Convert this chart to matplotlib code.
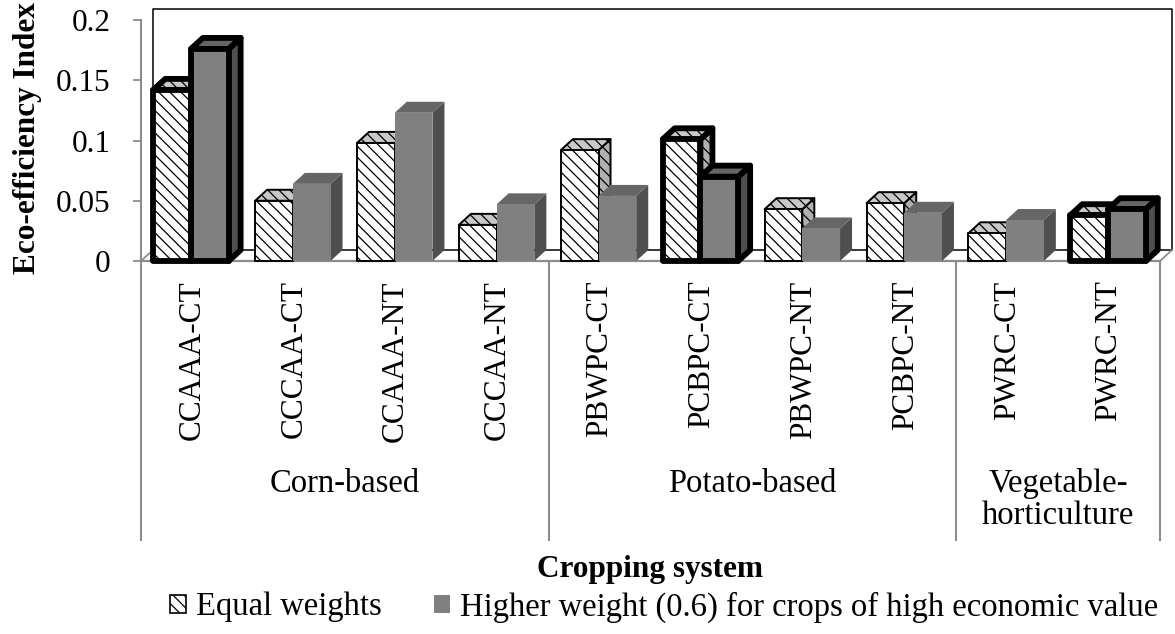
import matplotlib
matplotlib.use("Agg")
import matplotlib.pyplot as plt
from matplotlib.patches import Patch
import numpy as np

plt.rcParams["font.family"] = ["Liberation Serif", "DejaVu Serif"]
plt.rcParams["hatch.linewidth"] = 0.9

# data
systems = ["CCAAA-CT", "CCCAA-CT", "CCAAA-NT", "CCCAA-NT",
           "PBWPC-CT", "PCBPC-CT", "PBWPC-NT", "PCBPC-NT",
           "PWRC-CT", "PWRC-NT"]
equal_w = [0.142, 0.050, 0.098, 0.030, 0.092, 0.101, 0.043, 0.048, 0.023, 0.038]
high_w = [0.176, 0.064, 0.123, 0.047, 0.054, 0.070, 0.027, 0.040, 0.034, 0.043]
highlighted = ["CCAAA-CT", "PCBPC-CT", "PWRC-NT"]
groups = ["Corn-based", "Potato-based", "Vegetable-\nhorticulture"]
group_sizes = [4, 4, 2]
yticks = [0, 0.05, 0.1, 0.15, 0.2]
ytick_labels = ["0", "0.05", "0.1", "0.15", "0.2"]
legend_labels = ["Equal weights",
                 "Higher weight (0.6) for crops of high economic value"]

# pseudo 3d look
W, H = 1175, 634
px_x = 101.9          # pixels per category
px_y = 1205.0         # pixels per unit value
DX = 12 / px_x
DY = 11 / px_y
BW = 0.37
OFF = 0.12
FS = 23.5
FS_TICK = 22.5
FS_BOLD = 22.5

fig = plt.figure(figsize=(W / 100, H / 100), dpi=100)
ax = fig.add_axes([141 / W, 1 - 261 / H, (1160 - 141) / W, (261 - 20) / H])
ax.set_xlim(0, len(systems))
ax.set_ylim(0, 0.2)
for s in ax.spines.values():
    s.set_visible(False)

axis_gray = "#8c8c8c"
ybot = -(540 - 261) / px_y

# back wall + floor
ax.plot([DX, DX, 10 + DX, 10 + DX], [DY, 0.2 + DY, 0.2 + DY, DY],
        color="black", lw=1.1, clip_on=False, zorder=1)
ax.plot([DX, 10 + DX], [DY, DY], color="black", lw=1.1, clip_on=False, zorder=1)
ax.plot([0, DX], [0, DY], color=axis_gray, lw=1.3, clip_on=False, zorder=1)
ax.plot([10, 10 + DX], [0, DY], color=axis_gray, lw=1.3, clip_on=False, zorder=1)
ax.plot([0, 10], [0, 0], color=axis_gray, lw=1.6, clip_on=False, zorder=1)

# left axis and group separators
ax.plot([0, 0], [0.2, ybot], color=axis_gray, lw=1.5, clip_on=False, zorder=1)
edges = np.cumsum(group_sizes)
for e in edges:
    ax.plot([e, e], [-0.002, ybot], color=axis_gray, lw=1.5, clip_on=False, zorder=1)


def draw_bar(left, h, z, front, top, side, hatch, ec, lw):
    ax.fill([left + BW, left + BW + DX, left + BW + DX, left + BW],
            [0, DY, h + DY, h], facecolor=side, edgecolor=ec, lw=lw,
            hatch=hatch, zorder=z, clip_on=False, joinstyle="round")
    ax.fill([left, left + BW, left + BW + DX, left + DX],
            [h, h, h + DY, h + DY], facecolor=top, edgecolor=ec, lw=lw,
            hatch=hatch, zorder=z, clip_on=False, joinstyle="round")
    ax.bar(left, h, BW, align="edge", color=front, edgecolor=ec, lw=lw,
           hatch=hatch, zorder=z + 0.5, clip_on=False, joinstyle="round")


for i, name in enumerate(systems):
    bold = name in highlighted
    lw = 4.2 if bold else 1.4
    z = 10 + 4 * i
    left = i + OFF
    draw_bar(left, equal_w[i], z, "white", "#c8c8c8", "#b0b0b0",
             "\\\\\\", "black", lw)
    if bold:
        ec = "black"
    else:
        ec = "none"
    draw_bar(left + BW, high_w[i], z + 2, "#808080", "#666666", "#4f4f4f",
             None, ec, lw if bold else 0)

# ticks
ax.set_yticks(yticks)
ax.set_yticklabels(ytick_labels, fontsize=FS_TICK)
ax.tick_params(axis="y", direction="out", length=6, width=1.3,
               color=axis_gray, pad=16)
ax.set_xticks(np.arange(len(systems)) + 0.5)
ax.set_xticklabels(systems, rotation=90, fontsize=FS_TICK)
ax.tick_params(axis="x", length=0, pad=14)

# group labels
starts = np.concatenate([[0], edges[:-1]])
for g, s, n in zip(groups, starts, group_sizes):
    ax.text(s + n / 2, -(468 - 261) / px_y, g, ha="center", va="top",
            fontsize=FS, linespacing=1.05, clip_on=False)

fig.text(28 / W, 1 - 138 / H, "Eco-efficiency Index", rotation=90,
         ha="center", va="center", fontsize=FS_BOLD, fontweight="bold")
fig.text(650 / W, 1 - 570 / H, "Cropping system", ha="center", va="center",
         fontsize=FS_BOLD, fontweight="bold")

handles = [Patch(facecolor="white", edgecolor="black", hatch="\\\\\\", lw=1.2),
           Patch(facecolor="#808080", edgecolor="none")]
fig.legend(handles, legend_labels, loc="center",
           bbox_to_anchor=(664 / W, 1 - 607 / H), ncol=2, frameon=False,
           fontsize=FS, handlelength=0.5, handleheight=0.5,
           handletextpad=0.3, columnspacing=1.6)

fig.savefig("out.png", dpi=100)
